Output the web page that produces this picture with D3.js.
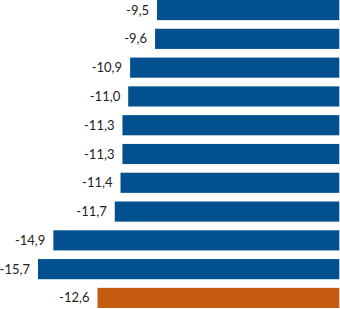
<!DOCTYPE html>
<html>
<head>
<meta charset="utf-8">
<script src="https://cdn.jsdelivr.net/npm/d3@7"></script>
<style>
  body { margin: 0; background: #ffffff; }
  svg { display: block; }
</style>
</head>
<body>
<div id="container"></div>
<script>
let w = 340;
let h = 309;

// DATA
let categories = ["c1", "c2", "c3", "c4", "c5", "c6", "c7", "c8", "c9", "c10", "total"];
let values = [-9.5, -9.6, -10.9, -11.0, -11.3, -11.3, -11.4, -11.7, -14.9, -15.7, -12.6];
let labels = ["-9,5", "-9,6", "-10,9", "-11,0", "-11,3", "-11,3", "-11,4", "-11,7", "-14,9", "-15,7", "-12,6"];
let highlight = ["total"];

let viz = d3.select("#container").append("svg")
    .attr("width", w)
    .attr("height", h)
    .style("background-color", "#ffffff");

// SCALES
let yScale = d3.scaleBand().domain(categories).range([0, 308]).paddingInner(0.3).paddingOuter(0);
let xScale = d3.scaleLinear().domain([-17.68, 0]).range([0, 339.3]);

let data = categories.map(function(c, i){
  return {cat: c, value: values[i], label: labels[i]};
});

viz.selectAll(".bar").data(data).enter()
  .append("rect")
    .attr("class", "bar")
    .attr("x", function(d){ return xScale(d.value); })
    .attr("y", function(d){ return yScale(d.cat); })
    .attr("width", function(d){ return xScale(0) - xScale(d.value); })
    .attr("height", yScale.bandwidth())
    .attr("fill", function(d){
      return highlight.includes(d.cat) ? "#c55a11" : "#02508f";
    });

viz.selectAll(".lbl").data(data).enter()
  .append("text")
    .attr("class", "lbl")
    .attr("x", function(d){ return xScale(d.value) - 8; })
    .attr("y", function(d){ return yScale(d.cat) + yScale.bandwidth() / 2; })
    .attr("dy", "0.35em")
    .attr("text-anchor", "end")
    .style("font-family", "Lato, 'Open Sans', sans-serif")
    .style("font-size", "13px")
    .style("fill", "#222")
    .text(function(d){ return d.label; });
</script>
</body>
</html>
